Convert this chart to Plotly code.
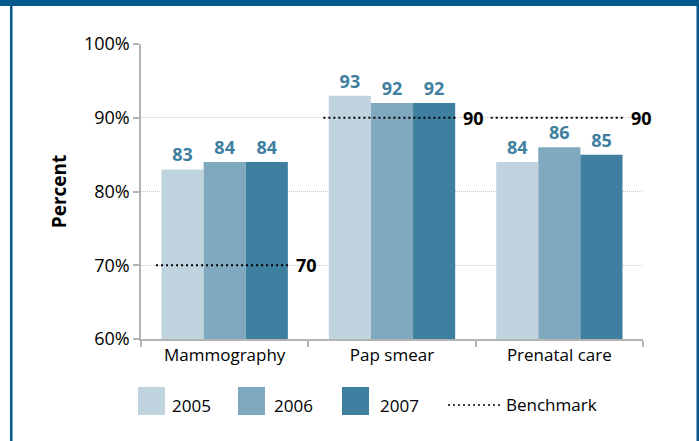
import plotly.graph_objects as go

categories = ["Mammography", "Pap smear", "Prenatal care"]
years = ["2005", "2006", "2007"]
values_2005 = [83, 93, 84]
values_2006 = [84, 92, 86]
values_2007 = [84, 92, 85]
benchmarks = [70, 90, 90]
y_ticks = [60, 70, 80, 90, 100]
y_tick_labels = [f"{v}%" for v in y_ticks]

series = [values_2005, values_2006, values_2007]
colors = ["#c0d4df", "#80a8bf", "#3f7f9f"]
LABEL_COLOR = "#3f7fa0"
FRAME = "#04588a"
FONT = "Open Sans"

W, H = 699, 441
PL, PR, PT, PB = 141, 643, 44, 339


def px(x):
    return (x - PL) / (PR - PL)


def py(y):
    return (PB - y) / (PB - PT)


fig = go.Figure()
for yr, vals, col in zip(years, series, colors):
    fig.add_trace(go.Bar(
        x=categories, y=vals, name=yr, marker=dict(color=col, line=dict(width=0)),
        text=vals, textposition="outside", cliponaxis=False,
        textfont=dict(family=FONT, size=18, color=LABEL_COLOR, weight="bold"),
        showlegend=False,
    ))

annotations = []
# benchmark lines on an overlaid numeric axis
for i, b in enumerate(benchmarks):
    fig.add_trace(go.Scatter(
        x=[i - 0.41, i + 0.385], y=[b, b], mode="lines",
        line=dict(color="black", width=2, dash="2px,3px"),
        xaxis="x2", showlegend=False, cliponaxis=False, hoverinfo="skip",
    ))
    annotations.append(dict(xref="x2", yref="y", x=i + 0.385, y=b, text=str(b),
                            showarrow=False, xanchor="left", yanchor="middle", xshift=5,
                            font=dict(family=FONT, size=18, color="black", weight="bold")))

fig.update_layout(
    width=W, height=H,
    margin=dict(l=PL, r=W - PR, t=PT, b=H - PB),
    paper_bgcolor="white", plot_bgcolor="white",
    barmode="group", bargap=0.245, bargroupgap=0,
    font=dict(family=FONT, size=17, color="black"),
    xaxis=dict(
        type="category", range=[-0.5, 2.5], showline=True, linecolor="#b3b3b3", linewidth=1.5,
        ticks="outside", tickson="boundaries", ticklen=6, tickcolor="#b3b3b3", tickwidth=1.5,
        tickfont=dict(family=FONT, size=17, color="black"), showgrid=False,
    ),
    xaxis2=dict(overlaying="x", range=[-0.5, 2.5], visible=False),
    yaxis=dict(
        range=[60, 100], tickmode="array", tickvals=y_ticks, ticktext=y_tick_labels, showline=True,
        linecolor="#b3b3b3", linewidth=1.5, ticks="outside", ticklen=6,
        tickcolor="#b3b3b3", tickwidth=1.5,
        tickfont=dict(family=FONT, size=18, color="black"),
        showgrid=True, gridcolor="#c8c8c8", griddash="1px,1px", gridwidth=1, zeroline=False,
        title=dict(text="Percent", font=dict(family=FONT, size=19, color="black", weight="bold"),
                   standoff=12),
    ),
)

shapes = []
# frame
shapes.append(dict(type="rect", xref="paper", yref="paper", x0=px(0), x1=px(W), y0=py(6), y1=py(0),
                   fillcolor=FRAME, line=dict(width=0), layer="above"))
shapes.append(dict(type="rect", xref="paper", yref="paper", x0=px(10), x1=px(12.5), y0=py(H), y1=py(0),
                   fillcolor=FRAME, line=dict(width=0), layer="above"))
shapes.append(dict(type="rect", xref="paper", yref="paper", x0=px(696.5), x1=px(W), y0=py(H), y1=py(0),
                   fillcolor=FRAME, line=dict(width=0), layer="above"))

# legend
sq_x = [138, 238, 342]
tx_x = [170, 272, 378]
for yr, col, sx, tx in zip(years, colors, sq_x, tx_x):
    shapes.append(dict(type="rect", xref="paper", yref="paper", x0=px(sx), x1=px(sx + 27),
                       y0=py(415), y1=py(387), fillcolor=col, line=dict(width=0)))
    annotations.append(dict(xref="paper", yref="paper", x=px(tx), y=py(405), text=yr,
                            showarrow=False, xanchor="left", yanchor="middle",
                            font=dict(family=FONT, size=17, color="black")))
shapes.append(dict(type="line", xref="paper", yref="paper", x0=px(448), x1=px(502), y0=py(405), y1=py(405),
                   line=dict(color="black", width=1.5, dash="2px,3px")))
annotations.append(dict(xref="paper", yref="paper", x=px(504), y=py(404), text="Benchmark",
                        showarrow=False, xanchor="left", yanchor="middle",
                        font=dict(family=FONT, size=17, color="black")))

fig.update_layout(shapes=shapes, annotations=annotations)
fig.write_html("out.html", config={"displayModeBar": False},
               post_script="document.body.style.margin='0';document.body.style.padding='0';"
                           "document.documentElement.style.overflow='hidden';")
